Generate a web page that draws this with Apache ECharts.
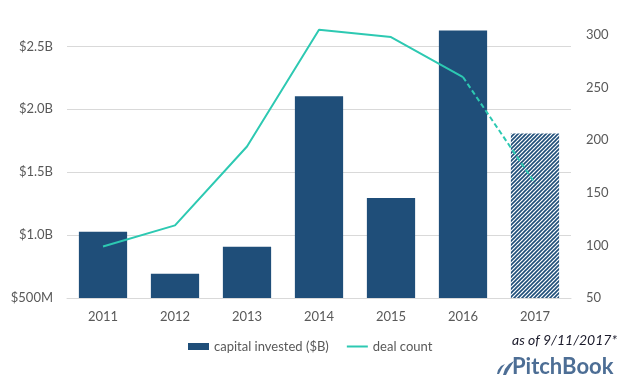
<!DOCTYPE html>
<html>
<head>
<meta charset="utf-8">
<script src="https://cdn.jsdelivr.net/npm/echarts@6/dist/echarts.min.js"></script>
<style>html,body{margin:0;padding:0;background:#fff}#c{width:623px;height:382px}</style>
</head>
<body>
<div id="c"></div>
<script>
var years = ['2011','2012','2013','2014','2015','2016','2017'];
var capitalInvested = [1.026, 0.693, 0.907, 2.103, 1.294, 2.627, 1.807];
var dealCount = [99, 119, 194, 305, 298, 260, 159];
var leftTicks = [0.5, 1.0, 1.5, 2.0, 2.5];
var rightTicks = [50, 100, 150, 200, 250, 300];

var BAR = '#1f4e79', LINE = '#2dc9b2', GRID = '#d9d9d9', TXT = '#595959';
var FONT = 'Lato, "DejaVu Sans", sans-serif';

// hatch pattern for the partial-year bar
var pc = document.createElement('canvas');
pc.width = 4; pc.height = 4;
var g = pc.getContext('2d');
g.fillStyle = '#fff'; g.fillRect(0,0,4,4);
g.strokeStyle = BAR; g.lineWidth = 1.6;
g.beginPath();
g.moveTo(-1,5); g.lineTo(5,-1);
g.moveTo(-1,1); g.lineTo(1,-1);
g.moveTo(3,5); g.lineTo(5,3);
g.stroke();

var lastIdx = years.length - 1;
var barData = capitalInvested.map(function (v, i) {
  return i === lastIdx ? { value: v, itemStyle: { color: { image: pc, repeat: 'repeat' } } } : v;
});
var solidLine = dealCount.map(function (v, i) { return i < lastIdx ? v : null; });
var dashLine = dealCount.map(function (v, i) { return i >= lastIdx - 1 ? v : null; });

var leftMin = leftTicks[0], rightMin = rightTicks[0];
var leftMax = 2.63, rightMax = 304.75;

var chart = echarts.init(document.getElementById('c'), null, { renderer: 'canvas' });
chart.setOption({
  animation: false,
  textStyle: { fontFamily: FONT },
  grid: { left: 67, right: 52, top: 30, bottom: 84 },
  legend: {
    left: 183, top: 335, itemWidth: 21, itemHeight: 7, itemGap: 18,
    textStyle: { fontSize: 13, color: TXT, fontFamily: FONT },
    data: [
      { name: 'capital invested ($B)', icon: 'rect' },
      { name: 'deal count', icon: 'path://M0,0L21,0L21,2L0,2Z' }
    ]
  },
  xAxis: {
    type: 'category', data: years,
    axisLine: { lineStyle: { color: GRID, width: 1 } },
    axisTick: { show: false },
    axisLabel: { fontSize: 13, color: TXT, margin: 12, fontFamily: FONT }
  },
  yAxis: [{
    type: 'value', min: leftMin, max: leftMax, interval: 0.5,
    axisLine: { show: false }, axisTick: { show: false },
    splitLine: { lineStyle: { color: [GRID, GRID, GRID, GRID, GRID, 'rgba(0,0,0,0)'], width: 1 } },
    axisLabel: {
      fontSize: 13, color: TXT, margin: 14, showMaxLabel: false, fontFamily: FONT,
      formatter: function (v) {
        if (Math.abs(v*2 - Math.round(v*2)) > 1e-6) return '';
        return v < 1 ? '$' + Math.round(v*1000) + 'M' : '$' + v.toFixed(1) + 'B';
      }
    }
  }, {
    type: 'value', min: rightMin, max: rightMax, interval: 50, position: 'right',
    axisLine: { show: false }, axisTick: { show: false }, splitLine: { show: false },
    axisLabel: {
      fontSize: 13, color: TXT, margin: 15, showMaxLabel: false, fontFamily: FONT,
      formatter: function (v) { return rightTicks.indexOf(v) >= 0 ? String(v) : ''; }
    }
  }],
  series: [{
    name: 'capital invested ($B)', type: 'bar', yAxisIndex: 0,
    data: barData, barCategoryGap: '33%',
    itemStyle: { color: BAR }
  }, {
    name: 'deal count', type: 'line', yAxisIndex: 1, data: solidLine,
    symbol: 'none', clip: false, connectNulls: false,
    lineStyle: { color: LINE, width: 2 }, itemStyle: { color: LINE }
  }, {
    name: 'deal count', type: 'line', yAxisIndex: 1, data: dashLine,
    symbol: 'none', clip: false,
    lineStyle: { color: LINE, width: 2, type: [5, 3] }, itemStyle: { color: LINE }
  }],
  graphic: [{
    type: 'text', right: 6, top: 333,
    style: { text: 'as of 9/11/2017*', font: 'italic 14px ' + FONT, fill: '#1b1b2b' }
  }, {
    type: 'text', left: 512, top: 356,
    style: { text: 'PitchBook', font: 'bold 22px ' + FONT, fill: '#4d6e95' }
  }, {
    type: 'polygon', left: 503, top: 361,
    shape: { points: [[0,14],[2,8],[6,3],[11,0],[8,5],[5,10],[3,14]] },
    style: { fill: '#4d6e95' }
  }, {
    type: 'polygon', left: 497, top: 364,
    shape: { points: [[0,11],[1,7],[4,3],[8,1],[5,5],[3,9],[2,11]] },
    style: { fill: '#4d6e95' }
  }]
});
</script>
</body>
</html>
